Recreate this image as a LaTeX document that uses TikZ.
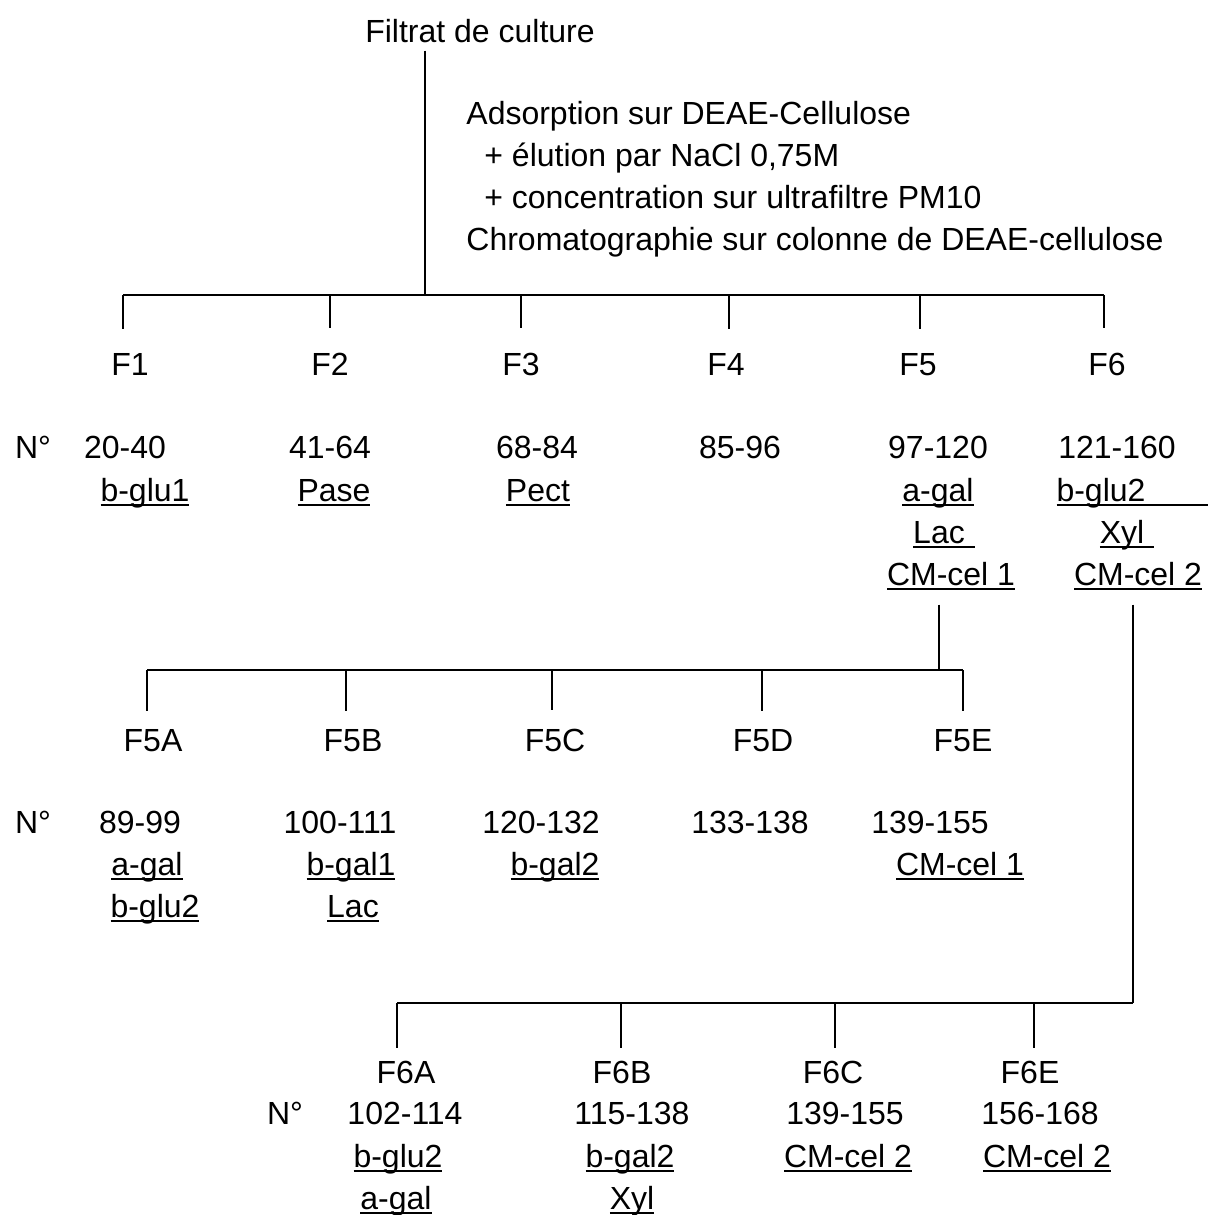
\documentclass[tikz,border=0pt]{standalone}
\usepackage{fontspec}
\setmainfont{Liberation Sans}
\usetikzlibrary{positioning}
% underline through the descenders, optional extra length
\newcommand\souligne[2][0pt]{\setbox0\hbox{#2}\rlap{\rule[-2.6pt]{\dimexpr\wd0+#1\relax}{1.1pt}}\box0}
\tikzset{
  txt/.style={anchor=base, inner sep=0pt, font=\fontsize{16}{21}\selectfont},
  fraction/.style={txt},
  barre/.style={line width=1.4pt},
  tige/.style={line width=1pt},
}

\begin{document}
\begin{tikzpicture}[x=0.5pt, y=-0.5pt]
  \useasboundingbox (0,0) rectangle (1208,1215);

  \node[txt] (titre) at (480,42) {Filtrat de culture};
  % base of a multi-line node = last line
  \node[txt, anchor=base west, align=left] (etapes) at (466,250)
    {Adsorption sur DEAE-Cellulose\\
     \hspace*{9pt}+ élution par NaCl 0,75M\\
     \hspace*{9pt}+ concentration sur ultrafiltre PM10\\
     Chromatographie sur colonne de DEAE-cellulose};

  % premiere chromatographie
  \node[fraction] (f1) at (130,375) {F1};
  \node[fraction] (f2) at (330,375) {F2};
  \node[fraction] (f3) at (521,375) {F3};
  \node[fraction] (f4) at (726,375) {F4};
  \node[fraction] (f5) at (918,375) {F5};
  \node[fraction] (f6) at (1107,375) {F6};

  \node[txt] (no1) at (33,458) {N°};
  \node[txt] (n1) at (125,458) {20-40};
  \node[txt] (n2) at (330,458) {41-64};
  \node[txt] (n3) at (537,458) {68-84};
  \node[txt] (n4) at (740,458) {85-96};
  \node[txt] (n5) at (938,458) {97-120};
  \node[txt] (n6) at (1117,458) {121-160};

  \node[txt] (e1a) at (145,501) {\souligne{b-glu1}};
  \node[txt] (e2a) at (334,501) {\souligne{Pase}};
  \node[txt] (e3a) at (538,501) {\souligne{Pect}};
  \node[txt] (e5a) at (938,501) {\souligne{a-gal}};
  \node[txt] (e5b) at (939,543) {\souligne[5pt]{Lac}};
  \node[txt] (e5c) at (951,585) {\souligne{CM-cel 1}};
  \node[txt] (e6a) at (1101,501) {\souligne[34pt]{b-glu2}};
  \node[txt] (e6b) at (1122,543) {\souligne[5pt]{Xyl}};
  \node[txt] (e6c) at (1138,585) {\souligne{CM-cel 2}};

  \coordinate (tronc) at (425,295);
  \coordinate (b1) at (123,295);
  \coordinate (b2) at (330,295);
  \coordinate (b3) at (521,295);
  \coordinate (b4) at (729,295);
  \coordinate (b5) at (920,295);
  \coordinate (b6) at (1104,295);

  \draw[tige, shorten <=4pt] (titre.south -| tronc) -- (tronc);
  \draw[barre] (b1) -- (b6);
  \foreach \i in {1,...,6}
    \draw[tige, shorten >=12pt] (b\i) -- (b\i |- f\i.north);

  % fraction F5
  \node[fraction] (f5a) at (153,751) {F5A};
  \node[fraction] (f5b) at (353,751) {F5B};
  \node[fraction] (f5c) at (555,751) {F5C};
  \node[fraction] (f5d) at (763,751) {F5D};
  \node[fraction] (f5e) at (963,751) {F5E};

  \node[txt] (no2) at (33,833) {N°};
  \node[txt] (m1) at (140,833) {89-99};
  \node[txt] (m2) at (340,833) {100-111};
  \node[txt] (m3) at (541,833) {120-132};
  \node[txt] (m4) at (750,833) {133-138};
  \node[txt] (m5) at (930,833) {139-155};

  \node[txt] (g1a) at (147,875) {\souligne{a-gal}};
  \node[txt] (g1b) at (155,917) {\souligne{b-glu2}};
  \node[txt] (g2a) at (351,875) {\souligne{b-gal1}};
  \node[txt] (g2b) at (353,917) {\souligne{Lac}};
  \node[txt] (g3a) at (555,875) {\souligne{b-gal2}};
  \node[txt] (g5a) at (960,875) {\souligne{CM-cel 1}};

  \coordinate (k5) at (939,670);
  \coordinate (a1) at (147,670);
  \coordinate (a2) at (346,670);
  \coordinate (a3) at (552,670);
  \coordinate (a4) at (762,670);
  \coordinate (a5) at (963,670);

  \draw[tige, shorten <=7pt] (e5c.south -| k5) -- (k5);
  \draw[barre] (a1) -- (a5);
  \draw[tige, shorten >=9pt] (a1) -- (a1 |- f5a.north);
  \draw[tige, shorten >=9pt] (a2) -- (a2 |- f5b.north);
  \draw[tige, shorten >=9pt] (a3) -- (a3 |- f5c.north);
  \draw[tige, shorten >=9pt] (a4) -- (a4 |- f5d.north);
  \draw[tige, shorten >=9pt] (a5) -- (a5 |- f5e.north);

  % fraction F6
  \node[fraction] (f6a) at (406,1083) {F6A};
  \node[fraction] (f6b) at (622,1083) {F6B};
  \node[fraction] (f6c) at (833,1083) {F6C};
  \node[fraction] (f6e) at (1030,1083) {F6E};

  \node[txt] (no3) at (285,1124) {N°};
  \node[txt] (p1) at (405,1124) {102-114};
  \node[txt] (p2) at (632,1124) {115-138};
  \node[txt] (p3) at (845,1124) {139-155};
  \node[txt] (p4) at (1040,1124) {156-168};

  \node[txt] (h1a) at (398,1167) {\souligne{b-glu2}};
  \node[txt] (h1b) at (396,1209) {\souligne{a-gal}};
  \node[txt] (h2a) at (630,1167) {\souligne{b-gal2}};
  \node[txt] (h2b) at (632,1209) {\souligne{Xyl}};
  \node[txt] (h3a) at (848,1167) {\souligne{CM-cel 2}};
  \node[txt] (h4a) at (1047,1167) {\souligne{CM-cel 2}};

  \coordinate (k6) at (1133,1003);
  \coordinate (c1) at (397,1003);
  \coordinate (c2) at (621,1003);
  \coordinate (c3) at (835,1003);
  \coordinate (c4) at (1034,1003);

  \draw[tige, shorten <=7pt] (e6c.south -| k6) -- (k6);
  \draw[barre] (c1) -- (k6);
  \draw[tige, shorten >=6pt] (c1) -- (c1 |- f6a.north);
  \draw[tige, shorten >=6pt] (c2) -- (c2 |- f6b.north);
  \draw[tige, shorten >=6pt] (c3) -- (c3 |- f6c.north);
  \draw[tige, shorten >=6pt] (c4) -- (c4 |- f6e.north);
\end{tikzpicture}
\end{document}
